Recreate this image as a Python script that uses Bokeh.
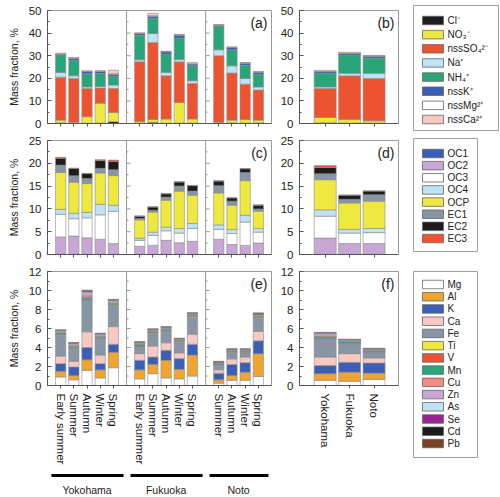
from bokeh.plotting import figure
from bokeh.layouts import row, column
from bokeh.models import (ColumnDataSource, Range1d, FixedTicker, SingleIntervalTicker,
                          Span, Label)
from bokeh.embed import file_html
from bokeh.resources import INLINE
from bokeh.core.properties import value

FONT = "Liberation Sans"

# ---------------- data ----------------
sites = ["Yokohama", "Fukuoka", "Noto"]
seasons_yokohama = ["Early summer", "Summer", "Autumn", "Winter", "Spring"]
seasons_fukuoka = ["Early summer", "Summer", "Autumn", "Winter", "Spring"]
seasons_noto = ["Summer", "Autumn", "Winter", "Spring"]

# ions, seasonal (Yokohama x5, Fukuoka x5, Noto x4)
ion_labels = ["Cl⁻", "NO₃⁻", "nssSO₄²⁻", "Na⁺", "NH₄⁺", "nssK⁺", "nssMg²⁺", "nssCa²⁺"]
cl = [0.3, 0.1, 0.1, 0.2, 0.8, 0.2, 0.5, 0.1, 0.2, 0.2, 0.1, 0.3, 0.2, 0.3]
no3 = [1.2, 0.5, 2.9, 8.8, 4.1, 0.7, 1.3, 1.9, 9.1, 1.8, 0.5, 1.2, 1.6, 1.2]
so4 = [19.0, 19.3, 12.5, 6.7, 10.6, 26.4, 34.0, 19.1, 18.0, 15.7, 29.4, 20.8, 15.6, 13.3]
na = [2.1, 1.2, 0.7, 0.7, 1.5, 0.9, 4.0, 1.5, 1.0, 1.2, 2.6, 3.2, 2.5, 1.4]
nh4 = [7.4, 6.9, 5.8, 5.7, 4.0, 10.9, 6.8, 8.1, 9.5, 6.6, 10.3, 7.1, 5.9, 5.6]
k_ion = [0.6, 0.8, 1.0, 0.9, 0.8, 0.7, 0.9, 1.0, 1.3, 0.8, 0.6, 1.0, 0.9, 0.9]
mg_ion = [0.2, 0.2, 0.1, 0.1, 0.2, 0.1, 0.2, 0.1, 0.1, 0.1, 0.1, 0.1, 0.1, 0.1]
ca_ion = [0.3, 0.2, 0.2, 0.3, 1.6, 0.2, 1.1, 0.2, 0.2, 0.6, 0.2, 0.2, 0.2, 0.2]
# ions, site means
cl_s = [0.3, 0.2, 0.2]
no3_s = [2.4, 1.6, 1.0]
so4_s = [12.8, 19.3, 18.7]
na_s = [0.7, 1.1, 2.3]
nh4_s = [6.1, 8.1, 6.7]
k_ion_s = [0.7, 0.7, 0.9]
mg_ion_s = [0.1, 0.1, 0.1]
ca_ion_s = [0.4, 0.4, 0.2]

# carbon fractions, seasonal
carbon_labels = ["OC1", "OC2", "OC3", "OC4", "OCP", "EC1", "EC2", "EC3"]
oc1 = [0.05, 0.05, 0.05, 0.05, 0.05, 0.05, 0.05, 0.05, 0.05, 0.05, 0.05, 0.05, 0.05, 0.05]
oc2 = [3.8, 4.0, 3.6, 3.3, 2.35, 1.75, 1.95, 3.05, 2.55, 2.85, 3.3, 2.15, 1.95, 2.45]
oc3 = [4.95, 3.8, 4.4, 5.35, 7.05, 1.3, 2.2, 2.1, 2.1, 2.8, 2.15, 2.4, 5.1, 2.4]
oc4 = [1.1, 1.2, 1.2, 2.3, 1.35, 0.5, 0.7, 0.8, 1.0, 1.1, 1.0, 0.9, 1.5, 0.8]
ocp = [8.1, 6.8, 6.3, 6.9, 6.5, 4.0, 4.4, 5.9, 8.2, 6.2, 7.0, 5.3, 7.6, 3.8]
ec1 = [1.6, 1.4, 1.1, 1.0, 1.3, 0.3, 0.4, 0.7, 1.1, 0.9, 1.6, 0.9, 1.8, 0.5]
ec2 = [1.5, 1.6, 1.1, 1.7, 1.8, 0.5, 0.7, 0.7, 0.9, 1.2, 1.0, 0.7, 0.8, 0.8]
ec3 = [0.2, 0.1, 0.05, 0.2, 0.3, 0.05, 0.05, 0.05, 0.05, 0.05, 0.05, 0.05, 0.05, 0.1]
# carbon fractions, site means
oc1_s = [0.05, 0.05, 0.05]
oc2_s = [3.55, 2.35, 2.35]
oc3_s = [4.8, 2.3, 2.4]
oc4_s = [1.4, 0.8, 0.9]
ocp_s = [6.6, 5.8, 6.0]
ec1_s = [1.3, 0.8, 1.4]
ec2_s = [1.4, 0.9, 0.8]
ec3_s = [0.4, 0.05, 0.05]

# elements, seasonal
element_labels = ["Mg", "Al", "K", "Ca", "Fe", "Ti", "V", "Mn", "Cu", "Zn", "As", "Se", "Cd", "Pb"]
mg_e = [0.9, 0.6, 1.6, 0.8, 1.87, 0.7, 1.25, 0.8, 0.7, 1.0, 0.25, 0.55, 0.55, 0.95]
al_e = [0.6, 0.45, 1.1, 0.85, 1.63, 0.95, 0.95, 1.85, 1.0, 2.2, 0.35, 0.5, 0.85, 2.4]
k_e = [0.8, 0.9, 1.3, 0.65, 0.85, 1.0, 0.8, 1.05, 1.13, 1.15, 0.7, 1.15, 1.0, 1.35]
ca_e = [0.8, 0.6, 1.65, 0.9, 1.85, 0.7, 1.15, 0.8, 0.6, 1.05, 0.35, 0.6, 0.6, 1.0]
fe_e = [2.2, 1.4, 3.35, 1.8, 2.25, 0.7, 1.35, 1.2, 1.2, 1.77, 0.55, 0.7, 0.5, 1.35]
ti_e = [0.05, 0.05, 0.05, 0.05, 0.05, 0.05, 0.05, 0.05, 0.05, 0.1, 0.02, 0.03, 0.03, 0.1]
v_e = [0.02, 0.02, 0.05, 0.02, 0.02, 0.02, 0.02, 0.02, 0.02, 0.02, 0.02, 0.02, 0.02, 0.03]
mn_e = [0.15, 0.12, 0.2, 0.1, 0.15, 0.2, 0.12, 0.15, 0.05, 0.1, 0.05, 0.05, 0.05, 0.1]
cu_e = [0.05, 0.05, 0.15, 0.05, 0.05, 0.05, 0.05, 0.05, 0.03, 0.05, 0.03, 0.03, 0.03, 0.05]
zn_e = [0.15, 0.2, 0.35, 0.15, 0.2, 0.1, 0.1, 0.1, 0.08, 0.1, 0.05, 0.1, 0.1, 0.1]
as_e = [0.05, 0.05, 0.05, 0.05, 0.05, 0.05, 0.03, 0.03, 0.03, 0.03, 0.03, 0.03, 0.03, 0.05]
se_e = [0.02, 0.02, 0.05, 0.02, 0.02, 0.02, 0.02, 0.02, 0.02, 0.02, 0.02, 0.02, 0.02, 0.03]
cd_e = [0.03, 0.03, 0.1, 0.03, 0.03, 0.03, 0.03, 0.03, 0.03, 0.03, 0.05, 0.05, 0.05, 0.05]
pb_e = [0.05, 0.05, 0.05, 0.05, 0.05, 0.05, 0.05, 0.05, 0.05, 0.05, 0.08, 0.05, 0.05, 0.1]
# elements, site means
mg_e_s = [0.55, 0.45, 0.63]
al_e_s = [0.7, 0.95, 0.67]
k_e_s = [0.85, 1.05, 1.07]
ca_e_s = [0.9, 0.9, 0.53]
fe_e_s = [1.9, 1.05, 0.65]
ti_e_s = [0.05, 0.05, 0.03]
v_e_s = [0.02, 0.02, 0.02]
mn_e_s = [0.15, 0.15, 0.05]
cu_e_s = [0.08, 0.05, 0.03]
zn_e_s = [0.25, 0.08, 0.1]
as_e_s = [0.05, 0.03, 0.03]
se_e_s = [0.02, 0.02, 0.02]
cd_e_s = [0.03, 0.03, 0.05]
pb_e_s = [0.05, 0.05, 0.05]

# ---------------- styles ----------------
BLACK = "#1c1c1c"; YELLOW = "#eee83f"; RED = "#ee5330"; LBLUE = "#bfe2f5"
GREEN = "#28a67a"; BLUE = "#3b5fb7"; WHITE = "#ffffff"; PINK = "#f8c9c1"
LAV = "#c8a6d6"; GRAY = "#8795a4"; ORANGE = "#f1a52e"; SALMON = "#f28a86"
PURPLE = "#9b2391"; BROWN = "#7b4120"
ion_colors = [BLACK, YELLOW, RED, LBLUE, GREEN, BLUE, WHITE, PINK]
carbon_colors = [BLUE, LAV, WHITE, LBLUE, YELLOW, GRAY, BLACK, RED]
element_colors = [WHITE, ORANGE, BLUE, PINK, GRAY, YELLOW, RED, GREEN, SALMON, LAV,
                  LBLUE, PURPLE, BLACK, BROWN]
BAR_LINE = "#8c8c8c"
OUTLINE = "#9a9a9a"
AXIS = "#555555"
TEXT = "#222222"

# ---------------- positions from categories ----------------
season_groups = [seasons_yokohama, seasons_fukuoka, seasons_noto]
xpos, xlab, seps, g_first, g_last, g_center = [], [], [], [], [], []
off = 0
for gi, g in enumerate(season_groups):
    ps = [off + i for i in range(len(g))]
    xpos += ps
    xlab += g
    g_first.append(ps[0]); g_last.append(ps[-1]); g_center.append((ps[0] + ps[-1]) / 2)
    off += len(g) + 1
    if gi < len(season_groups) - 1:
        seps.append(off - 1)
site_pos = list(range(len(sites)))

x_season = Range1d(-1, off - 1)
x_site = Range1d(-1.05, len(sites))

ion_keys = ["cl", "no3", "so4", "na", "nh4", "k", "mg", "ca"]
carbon_keys = ["oc1", "oc2", "oc3", "oc4", "ocp", "ec1", "ec2", "ec3"]
element_keys = ["mg", "al", "k", "ca", "fe", "ti", "v", "mn", "cu", "zn", "as_", "se", "cd", "pb"]

src_ion = ColumnDataSource(dict(x=xpos, cl=cl, no3=no3, so4=so4, na=na, nh4=nh4, k=k_ion, mg=mg_ion, ca=ca_ion))
src_ion_s = ColumnDataSource(dict(x=site_pos, cl=cl_s, no3=no3_s, so4=so4_s, na=na_s, nh4=nh4_s,
                                  k=k_ion_s, mg=mg_ion_s, ca=ca_ion_s))
src_c = ColumnDataSource(dict(x=xpos, oc1=oc1, oc2=oc2, oc3=oc3, oc4=oc4, ocp=ocp, ec1=ec1, ec2=ec2, ec3=ec3))
src_c_s = ColumnDataSource(dict(x=site_pos, oc1=oc1_s, oc2=oc2_s, oc3=oc3_s, oc4=oc4_s, ocp=ocp_s,
                                ec1=ec1_s, ec2=ec2_s, ec3=ec3_s))
src_e = ColumnDataSource(dict(x=xpos, mg=mg_e, al=al_e, k=k_e, ca=ca_e, fe=fe_e, ti=ti_e, v=v_e, mn=mn_e,
                              cu=cu_e, zn=zn_e, as_=as_e, se=se_e, cd=cd_e, pb=pb_e))
src_e_s = ColumnDataSource(dict(x=site_pos, mg=mg_e_s, al=al_e_s, k=k_e_s, ca=ca_e_s, fe=fe_e_s, ti=ti_e_s,
                                v=v_e_s, mn=mn_e_s, cu=cu_e_s, zn=zn_e_s, as_=as_e_s, se=se_e_s,
                                cd=cd_e_s, pb=pb_e_s))

W_LEFT, W_MID = 273, 127


def make_panel(width, height, xr, ticks, ymax, step, bl, bt, bb, br, ylabel, tag):
    p = figure(width=width, height=height, x_range=xr, y_range=Range1d(0, ymax),
               output_backend="svg", toolbar_location=None,
               min_border_left=bl, min_border_right=br, min_border_top=bt, min_border_bottom=bb)
    p.xgrid.visible = False
    p.ygrid.visible = False
    p.outline_line_color = OUTLINE
    p.outline_line_width = 1
    ya = p.yaxis[0]
    ya.ticker = SingleIntervalTicker(interval=step, num_minor_ticks=2)
    ya.major_tick_in = 4; ya.major_tick_out = 0
    ya.minor_tick_in = 2; ya.minor_tick_out = 0
    ya.axis_line_color = AXIS; ya.major_tick_line_color = AXIS; ya.minor_tick_line_color = AXIS
    ya.major_label_text_font = FONT
    ya.major_label_text_font_size = "11.5px"
    ya.major_label_text_color = TEXT
    ya.major_label_standoff = 6
    if ylabel:
        ya.axis_label = ylabel
        ya.axis_label_text_font = FONT
        ya.axis_label_text_font_size = "10.5px"
        ya.axis_label_text_font_style = "normal"
        ya.axis_label_text_color = TEXT
        ya.axis_label_standoff = 6
    xa = p.xaxis[0]
    xa.ticker = FixedTicker(ticks=ticks, minor_ticks=[])
    xa.major_tick_in = 0; xa.major_tick_out = 3
    xa.minor_tick_in = 0; xa.minor_tick_out = 0
    xa.axis_line_color = AXIS; xa.major_tick_line_color = AXIS
    xa.major_label_text_font = FONT
    xa.major_label_overrides = {t: "" for t in ticks}
    xa.major_label_text_font_size = "1px"
    xa.major_label_standoff = 0
    p.add_layout(Label(x=xr.end, y=ymax, x_offset=-4, y_offset=-4, text=tag,
                       text_align="right", text_baseline="top", text_font=FONT,
                       text_font_size="14px", text_color=TEXT))
    return p


def add_seps(p, ymax, step):
    # separator lines between sites, each carrying small inward ticks like a y axis
    major = [step * i for i in range(int(round(ymax / step)) + 1)]
    minor = [step * (i + 0.5) for i in range(int(round(ymax / step)))]
    for s in seps:
        p.add_layout(Span(location=s, dimension="height", line_color=OUTLINE, line_width=1))
        p.ray(x=[s] * len(major), y=major, length=4, angle=0, length_units="screen",
              line_color=OUTLINE, line_width=1)
        p.ray(x=[s] * len(minor), y=minor, length=2, angle=0, length_units="screen",
              line_color=OUTLINE, line_width=1)


def stack(p, keys, colors, src, width):
    p.vbar_stack(keys, x="x", width=width, color=colors, source=src,
                 line_color=BAR_LINE, line_width=0.6)


def show_labels(p, labels_map):
    xa = p.xaxis[0]
    xa.major_label_text_font_size = "11.5px"
    xa.major_label_standoff = 5
    xa.major_label_orientation = "vertical"
    xa.major_label_text_color = TEXT
    xa.major_label_overrides = labels_map


# row 1
pa = make_panel(W_LEFT, 131, x_season, xpos, 50, 10, 47, 10, 8, 2, "Mass fraction, %", "(a)")
add_seps(pa, 50, 10)
stack(pa, ion_keys, ion_colors, src_ion, 0.78)
pb = make_panel(W_MID, 131, x_site, site_pos, 50, 10, 26, 10, 8, 2, None, "(b)")
stack(pb, ion_keys, ion_colors, src_ion_s, 0.9)

# row 2
pc = make_panel(W_LEFT, 131, x_season, xpos, 25, 5, 47, 9, 8, 2, "Mass fraction, %", "(c)")
add_seps(pc, 25, 5)
stack(pc, carbon_keys, carbon_colors, src_c, 0.78)
pd = make_panel(W_MID, 131, x_site, site_pos, 25, 5, 26, 9, 8, 2, None, "(d)")
stack(pd, carbon_keys, carbon_colors, src_c_s, 0.9)

# row 3
pe = make_panel(W_LEFT, 206, x_season, xpos, 12, 2, 47, 9, 83, 2, "Mass fraction, %", "(e)")
add_seps(pe, 12, 2)
stack(pe, element_keys, element_colors, src_e, 0.78)
show_labels(pe, {pos: lab for pos, lab in zip(xpos, xlab)})
pf = make_panel(W_MID, 206, x_site, site_pos, 12, 2, 26, 9, 83, 2, None, "(f)")
stack(pf, element_keys, element_colors, src_e_s, 0.9)
show_labels(pf, {pos: lab for pos, lab in zip(site_pos, sites)})


def legend_fig(width, height, labels, colors, bt, bb, first_off, last_off):
    """Legend drawn as its own small plot: the frame is the legend box."""
    n = len(labels)
    box_h = height - bt - bb
    box_w = width - 13 - 2
    pitch = (last_off - first_off) / (n - 1)
    yr = Range1d((n - 1) + (box_h - last_off) / pitch, -first_off / pitch)
    p = figure(width=width, height=height, output_backend="svg", toolbar_location=None,
               x_axis_location=None, y_axis_location=None,
               min_border_left=13, min_border_right=2, min_border_top=bt, min_border_bottom=bb,
               x_range=Range1d(0, box_w), y_range=yr)
    p.grid.visible = False
    p.outline_line_color = "#a0a0a0"
    p.outline_line_width = 1
    src = ColumnDataSource(dict(idx=list(range(n)), label=labels, color=colors))
    p.rect(x=19.5, y="idx", width=21, height=8.5, width_units="screen", height_units="screen",
           fill_color="color", line_color="#666666", line_width=0.8, source=src)
    p.text(x=34, y="idx", text="label", text_baseline="middle", text_align="left",
           text_font=value(FONT), text_font_size=value("10px"), text_color=TEXT, source=src)
    return p


leg1 = legend_fig(100, 131, ion_labels, ion_colors, 5, 1, 15, 114)
leg2 = legend_fig(79, 131, carbon_labels, carbon_colors, 7, 11, 15, 100)
leg3 = legend_fig(79, 206, element_labels, element_colors, 9, 11, 13, 172)

# bottom strip with site groups
strip = figure(width=W_LEFT, height=29, x_range=x_season, y_range=Range1d(0, 29),
               output_backend="svg", toolbar_location=None,
               x_axis_location=None, y_axis_location=None,
               min_border_left=47, min_border_right=2, min_border_top=0, min_border_bottom=0)
strip.grid.visible = False
strip.outline_line_color = None
gsrc = ColumnDataSource(dict(x0=[f - 0.7 for f in g_first], x1=[l + 0.77 for l in g_last],
                             xc=g_center, name=sites))
strip.segment(x0="x0", x1="x1", y0=22, y1=22, line_width=3, line_color="black", source=gsrc)
strip.text(x="xc", y=8, text="name", text_align="center", text_baseline="middle",
           text_font=value(FONT), text_font_size=value("10.5px"), text_color=TEXT, source=gsrc)

panels = column(row(pa, pb), row(pc, pd), row(pe, pf), strip)
legends = column(leg1, leg2, leg3)
layout = row(panels, legends)

open("out.html", "w").write(file_html(layout, INLINE))
